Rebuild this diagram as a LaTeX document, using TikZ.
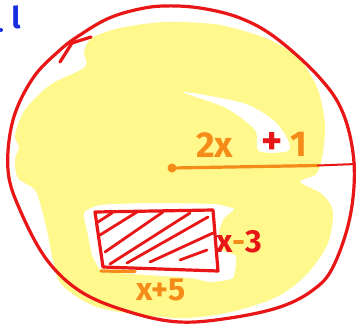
\documentclass[tikz,border=0pt]{standalone}
\usepackage{fontspec}
\setmainfont{Fira Sans}
\usetikzlibrary{positioning}
\definecolor{penred}{RGB}{232,22,22}
\definecolor{penorange}{RGB}{245,140,25}
\definecolor{penblue}{RGB}{25,45,225}
\definecolor{marker}{RGB}{255,248,140}

\begin{document}
\begin{tikzpicture}[x=1pt,y=-1pt]
  \tikzset{
    pen/.style={line width=3.2pt, line cap=round, line join=round},
    hand/.style={inner sep=0pt, font=\fontsize{#1}{#1}\selectfont\bfseries},
    hand/.default=28,
  }
  \clip (0,0) rectangle (356,327);
  \fill[white] (0,0) rectangle (356,327);
  % Highlighter
  \fill[marker] plot[smooth cycle, tension=0.5] coordinates {
    (84,52) (92,38) (120,28) (165,22) (220,25) (270,40) (300,60) (318,90)
    (325,125) (322,158) (316,174) (300,182) (322,194) (333,212) (328,243)
    (313,267) (295,285) (270,300) (226,313) (176,318) (100,308) (62,285)
    (53,260) (48,235) (42,210) (35,190) (18,178) (15,160) (19,147) (15,135)
    (25,110) (50,85) (85,67)};
  % gaps left by the highlighter
  \fill[white] plot[smooth cycle, tension=0.5] coordinates {
    (183,92) (243,103) (273,120) (287,138) (288,151) (259,151) (255,130) (226,108)};
  \fill[white] plot[smooth cycle, tension=0.3] coordinates {
    (84,213) (100,205) (150,203) (213,204) (234,209) (224,218) (219,232)
    (222,250) (236,256) (233,278) (210,282) (190,278) (120,273) (100,269)
    (92,255) (88,235)};
  % Circle
  \draw[pen, penred] plot[smooth cycle, tension=0.6] coordinates {
    (33,78) (60,50) (80,35) (107,19) (135,10) (163,6) (200,8) (240,18)
    (276,38) (319,77) (343,113) (354,163) (350,217) (333,267) (313,290)
    (280,307) (230,318) (180,322) (133,313) (83,293) (47,260) (20,210)
    (8,170) (13,120)};
  \draw[pen, penred] (91,37) -- (72,43) -- (60,62);
  % Radius
  \node[circle, fill=penorange, inner sep=0pt, minimum size=9pt] (centre) at (172,168) {};
  \coordinate (rim-mid) at (318,165.5);
  \coordinate (rim) at (356,164);
  \draw[pen, penorange] (centre) -- (rim-mid);
  \draw[pen, penred, line width=2pt] (rim-mid) -- (rim);
  % Rectangle
  \coordinate (rect-tl) at (95,212);
  \coordinate (rect-tr) at (213,210);
  \coordinate (rect-br) at (218,271);
  \coordinate (rect-bl) at (103,267);
  \coordinate (base-start) at (101,271);
  \coordinate (base-end) at (135,271.5);
  \draw[pen, penorange] (base-start) -- (base-end);
  \draw[pen, penred] (rect-tl) -- (rect-tr) -- (rect-br) -- (rect-bl) -- cycle;
  \foreach \xa/\ya/\xb/\yb in {98/222/112/213, 100/235/137/212, 105/252/163/212,
                     110/264/190/213, 127/263/208/217, 150/262/213/233,
                     180/260/207/250}
    {\draw[pen, penred, line width=2.8pt] (\xa,\ya) -- (\xb,\yb);}
  % Labels
  \node[hand=36, text=penorange, anchor=base west] (two-x) at (196,157) {2x};
  \node[hand=40, text=penred] (plus) at (272,144) {+};
  \node[hand=36, text=penorange, anchor=base] (one) at (299,156) {1};
  \node[hand=32, anchor=base west] (side-b) at (216,252)
    {{\color{penred}x}{\color{penorange}-}{\color{penred}3}};
  \node[hand=32, text=penorange] (side-a) at (161,290) {x+5};
  \node[hand=30, text=penblue, anchor=base] (corner) at (16,28) {l};
  \fill[penblue] (1,30) circle (2pt);
\end{tikzpicture}
\end{document}
